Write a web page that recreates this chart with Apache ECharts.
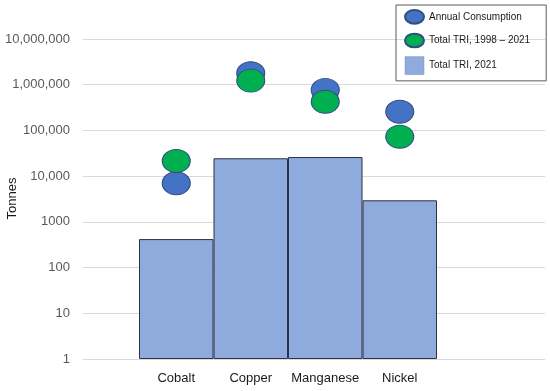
<!DOCTYPE html>
<html>
<head>
<meta charset="utf-8">
<script src="https://cdn.jsdelivr.net/npm/echarts@6/dist/echarts.min.js"></script>
<style>html,body{margin:0;padding:0;background:#fff}#c{width:550px;height:391px}</style>
</head>
<body>
<div id="c"></div>
<script>
const categories = ['Cobalt', 'Copper', 'Manganese', 'Nickel'];
const totalTRI2021 = [420, 24600, 26200, 2960];
const annualConsumption = [7000, 1780000, 770000, 257000];
const totalTRI19982021 = [21500, 1230000, 425000, 73000];
const yTickValues = [1, 10, 100, 1000, 10000, 100000, 1000000, 10000000];
const yTickLabels = ['1', '10', '100', '1000', '10,000', '100,000', '1,000,000', '10,000,000'];
const yAxisTitle = 'Tonnes';

const ellipse = 'path://M0,36 A50,36 0 1,1 100,36 A50,36 0 1,1 0,36 Z';
const font = 'Liberation Sans';

const chart = echarts.init(document.getElementById('c'), null, {renderer: 'canvas'});
chart.setOption({
  animation: false,
  textStyle: {fontFamily: font},
  grid: [
    {left: 83, right: 5, top: 39, bottom: 32, containLabel: false, outerBoundsMode: 'none'},
    {left: 139, right: 113, top: 39, bottom: 32, containLabel: false, outerBoundsMode: 'none'}
  ],
  graphic: [
    {type: 'text', rotation: Math.PI / 2, x: 12, y: 198.5,
     style: {text: yAxisTitle, fontSize: 13, fill: '#1a1a1a', fontFamily: font,
              align: 'center', verticalAlign: 'middle'}}
  ],
  xAxis: [
    {gridIndex: 0, type: 'category', data: categories, show: false},
    {gridIndex: 1, type: 'category', data: categories,
     axisLine: {show: false}, axisTick: {show: false},
     axisLabel: {fontSize: 13, color: '#1a1a1a', margin: 13, fontFamily: font, interval: 0, hideOverlap: false}}
  ],
  yAxis: [
    {gridIndex: 0, type: 'log', logBase: 10, min: 1, max: 10000000,
     axisLine: {show: false}, axisTick: {show: false},
     splitLine: {lineStyle: {color: '#d9d9d9', width: 1}},
     axisLabel: {fontSize: 13, color: '#595959', margin: 13, fontFamily: font,
       formatter: function (v) {
         const i = yTickValues.findIndex(t => Math.abs(t - v) / t < 1e-6);
         return i >= 0 ? yTickLabels[i] : '';
       }}},
    {gridIndex: 1, type: 'log', logBase: 10, min: 1, max: 10000000, show: false,
     splitLine: {show: false}}
  ],
  legend: {
    orient: 'vertical', left: 396, top: 5,
    padding: [4, 16, 6, 8],
    borderColor: '#595959', borderWidth: 1,
    itemWidth: 19, itemHeight: 18, itemGap: 8,
    symbolKeepAspect: true,
    textStyle: {fontSize: 10, color: '#1a1a1a', fontFamily: font},
    data: [
      {name: 'Annual Consumption', icon: ellipse},
      {name: 'Total TRI, 1998 – 2021', icon: ellipse},
      {name: 'Total TRI, 2021', icon: 'rect', itemStyle: {borderColor: '#7f93b8', borderWidth: 0.5}}
    ]
  },
  series: [
    {name: 'Total TRI, 2021', type: 'bar', xAxisIndex: 1, yAxisIndex: 1,
     data: totalTRI2021, barCategoryGap: '0%', barGap: '0%',
     itemStyle: {color: '#8FAADC', borderColor: '#2b3245', borderWidth: 1}},
    {name: 'Annual Consumption', type: 'scatter', xAxisIndex: 1, yAxisIndex: 1,
     data: annualConsumption, symbol: ellipse, symbolSize: [28, 23],
     itemStyle: {color: '#4472C4', borderColor: '#2F4F7F', borderWidth: 1, opacity: 1}},
    {name: 'Total TRI, 1998 – 2021', type: 'scatter', xAxisIndex: 1, yAxisIndex: 1,
     data: totalTRI19982021, symbol: ellipse, symbolSize: [28, 23],
     itemStyle: {color: '#00B050', borderColor: '#2F4F7F', borderWidth: 1, opacity: 1}}
  ]
});
</script>
</body>
</html>
